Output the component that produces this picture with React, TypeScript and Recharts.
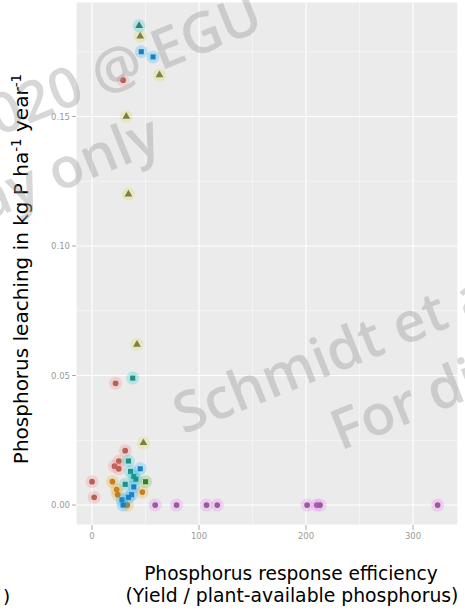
import { ScatterChart, Scatter, XAxis, YAxis, ZAxis, CartesianGrid, ReferenceLine, Symbols } from 'recharts';

// values (x = response efficiency, y = P leaching)
const redPts = [
  { x: 29, y: 0.164 }, { x: 22, y: 0.047 }, { x: 31, y: 0.021 }, { x: 25, y: 0.017 },
  { x: 21, y: 0.015 }, { x: 25, y: 0.014 }, { x: 0, y: 0.009 }, { x: 2, y: 0.003 },
];
const orangePts = [
  { x: 19, y: 0.009 }, { x: 23, y: 0.006 }, { x: 24, y: 0.004 }, { x: 33, y: 0.0 }, { x: 47, y: 0.005 },
];
const olivePts = [
  { x: 45, y: 0.181 }, { x: 63, y: 0.166 }, { x: 32, y: 0.15 }, { x: 34, y: 0.12 },
  { x: 42, y: 0.062 }, { x: 48, y: 0.024 },
];
const greenPts = [{ x: 50, y: 0.009 }];
const tealTriPts = [{ x: 44, y: 0.185 }];
const tealPts = [
  { x: 38, y: 0.049 }, { x: 34, y: 0.017 }, { x: 36, y: 0.013 }, { x: 39, y: 0.011 },
  { x: 41, y: 0.01 }, { x: 31, y: 0.008 },
];
const bluePts = [
  { x: 46, y: 0.175 }, { x: 57, y: 0.173 }, { x: 45, y: 0.014 }, { x: 39, y: 0.007 },
  { x: 37, y: 0.004 }, { x: 28, y: 0.002 }, { x: 34, y: 0.003 }, { x: 29, y: 0.0 },
];
const magentaPts = [
  { x: 59, y: 0 }, { x: 79, y: 0 }, { x: 107, y: 0 }, { x: 117, y: 0 },
  { x: 201, y: 0 }, { x: 210, y: 0 }, { x: 213, y: 0 }, { x: 323, y: 0 },
];

const xTicks = [0, 100, 200, 300];
const yTicks = [0, 0.05, 0.1, 0.15];
const xMinor = [50, 150, 250];
const yMinor = [0.025, 0.075, 0.125, 0.175];

const titleFont = '"DejaVu Sans", Verdana, sans-serif';

function dot(color: string, core: string, type: 'circle' | 'triangle' | 'square') {
  return (p: any) => {
    if (p.cx == null || p.cy == null) return <g />;
    return (
      <g>
        <circle cx={p.cx} cy={p.cy} r={6.5} fill={color} fillOpacity={0.22} />
        <Symbols cx={p.cx} cy={p.cy} type={type} size={26} fill={core} />
      </g>
    );
  };
}

export default function App() {
  const tick = { fill: '#9a9a9a', fontSize: 8.5, fontFamily: titleFont };
  return (
    <div style={{ position: 'absolute', left: 0, top: 0, width: 465, height: 612, background: '#fff' }}>
      <ScatterChart width={465} height={612} margin={{ top: 2, right: 7, bottom: 0, left: 0 }}>
        <CartesianGrid fill="#EBEBEB" stroke="#ffffff" strokeWidth={1.1} />
        {xMinor.map((v) => (
          <ReferenceLine key={'x' + v} x={v} stroke="#ffffff" strokeWidth={0.5} />
        ))}
        {yMinor.map((v) => (
          <ReferenceLine key={'y' + v} y={v} stroke="#ffffff" strokeWidth={0.5} />
        ))}
        <XAxis
          type="number"
          dataKey="x"
          domain={[-15, 342]}
          ticks={xTicks}
          allowDataOverflow
          height={87}
          tick={tick}
          tickSize={5}
          tickMargin={3}
          tickLine={{ stroke: '#aaa' }}
          axisLine={false}
        />
        <YAxis
          type="number"
          dataKey="y"
          domain={[-0.0077, 0.1942]}
          ticks={yTicks}
          allowDataOverflow
          width={76}
          tick={tick}
          tickSize={4}
          tickLine={{ stroke: '#aaa' }}
          axisLine={false}
          tickFormatter={(v: number) => v.toFixed(2)}
        />
        <ZAxis range={[30, 30]} />
        <Scatter data={magentaPts} isAnimationActive={false} shape={dot('#E76BF3', '#9a5aa0', 'circle')} />
        <Scatter data={redPts} isAnimationActive={false} shape={dot('#F8766D', '#b5615a', 'circle')} />
        <Scatter data={orangePts} isAnimationActive={false} shape={dot('#E7A000', '#c87d20', 'circle')} />
        <Scatter data={olivePts} isAnimationActive={false} shape={dot('#D4D640', '#7f8040', 'triangle')} />
        <Scatter data={greenPts} isAnimationActive={false} shape={dot('#39B600', '#3d7a30', 'square')} />
        <Scatter data={tealPts} isAnimationActive={false} shape={dot('#00BFC4', '#1f8f8a', 'square')} />
        <Scatter data={tealTriPts} isAnimationActive={false} shape={dot('#00BFC4', '#2f8078', 'triangle')} />
        <Scatter data={bluePts} isAnimationActive={false} shape={dot('#00A9FF', '#1b7fc0', 'square')} />
      </ScatterChart>

      <svg width={465} height={612} style={{ position: 'absolute', left: 0, top: 0, pointerEvents: 'none' }}>
        <text
          transform="translate(28,269) rotate(-90)"
          textAnchor="middle"
          fontFamily={titleFont}
          fontSize={20}
          fill="#000"
        >
          Phosphorus leaching in kg P ha<tspan fontSize={13.5} dy={-7}>-1</tspan>
          <tspan dy={7}> year</tspan>
          <tspan fontSize={13.5} dy={-7}>-1</tspan>
        </text>
        <text x={291} y={580} textAnchor="middle" fontFamily={titleFont} fontSize={18.6} fill="#000">
          Phosphorus response efficiency
        </text>
        <text x={292} y={602} textAnchor="middle" fontFamily={titleFont} fontSize={18.8} fill="#000">
          (Yield / plant-available phosphorus)
        </text>
        <text x={3} y={603} fontFamily={titleFont} fontSize={18.5} fill="#000">)</text>

        {[
          [-60, 160],
          [509, 303],
        ].map(([cx, cy], i) => (
          <text
            key={i}
            transform={`translate(${cx},${cy}) rotate(-22)`}
            textAnchor="middle"
            fontFamily='"Open Sans", sans-serif'
            fontWeight={600}
            fontSize={56}
            fill="#9a9a9a"
            fillOpacity={0.4}
          >
            <tspan x={0} y={0}>Schmidt et al. 2020 @ EGU</tspan>
            <tspan x={0} y={74}>For display only</tspan>
          </text>
        ))}
      </svg>
    </div>
  );
}
